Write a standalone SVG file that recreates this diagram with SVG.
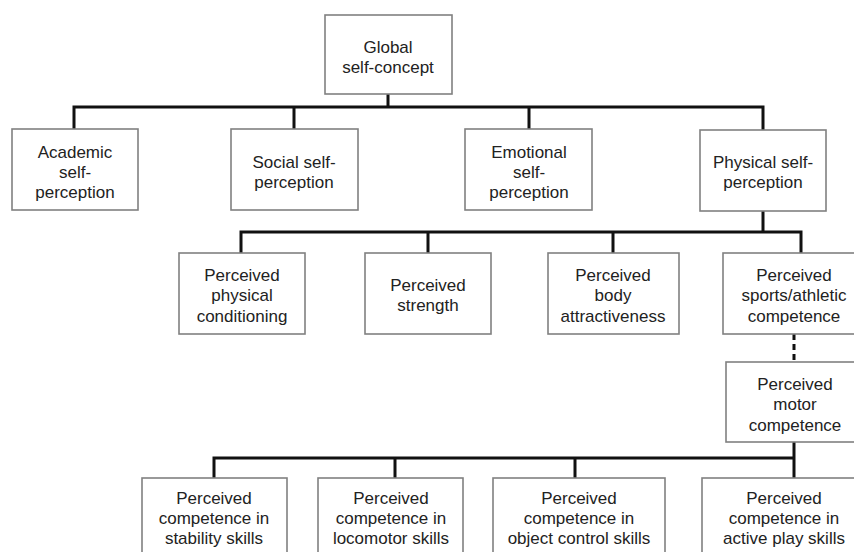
<svg xmlns="http://www.w3.org/2000/svg" width="854" height="552" viewBox="0 0 854 552">
<style>
.box{fill:#fff;stroke:#808080;stroke-width:1.6}
.t{font-family:"Liberation Sans",Arial,sans-serif;font-size:17px;fill:#222;text-anchor:middle}
.c{fill:none;stroke:#111;stroke-width:3}
.d{fill:none;stroke:#111;stroke-width:3;stroke-dasharray:6,4}
</style>
<rect width="854" height="552" fill="#fff"/>
<g id="connectors">
<path class="c" d="M388,94V107M74,129V107H763V130M294,107V129M529,107V129"/>
<path class="c" d="M763,211V232M241,253V232H801V253M428,232V253M613,232V253"/>
<path class="d" d="M794,334V362"/>
<path class="c" d="M794,442V478M214,478V458H794M395,458V478M575,458V478"/>
</g>
<g id="global"><rect class="box" x="325" y="15" width="127" height="79"/><text class="t" x="388" y="53">Global</text><text class="t" x="388" y="73">self-concept</text></g>
<g id="academic"><rect class="box" x="12" y="129" width="126" height="81"/><text class="t" x="75" y="158">Academic</text><text class="t" x="75" y="178">self-</text><text class="t" x="75" y="198">perception</text></g>
<g id="social"><rect class="box" x="231" y="129" width="127" height="81"/><text class="t" x="294" y="168">Social self-</text><text class="t" x="294" y="188">perception</text></g>
<g id="emotional"><rect class="box" x="465" y="129" width="127" height="81"/><text class="t" x="529" y="158">Emotional</text><text class="t" x="529" y="178">self-</text><text class="t" x="529" y="198">perception</text></g>
<g id="physical"><rect class="box" x="700" y="130" width="126" height="81"/><text class="t" x="763" y="168">Physical self-</text><text class="t" x="763" y="188">perception</text></g>
<g id="conditioning"><rect class="box" x="179" y="253" width="126" height="81"/><text class="t" x="242" y="281">Perceived</text><text class="t" x="242" y="301">physical</text><text class="t" x="242" y="322">conditioning</text></g>
<g id="strength"><rect class="box" x="365" y="253" width="126" height="81"/><text class="t" x="428" y="291">Perceived</text><text class="t" x="428" y="311">strength</text></g>
<g id="body"><rect class="box" x="548" y="253" width="131" height="81"/><text class="t" x="613" y="281">Perceived</text><text class="t" x="613" y="301">body</text><text class="t" x="613" y="322">attractiveness</text></g>
<g id="sports"><rect class="box" x="723" y="253" width="142" height="81"/><text class="t" x="794" y="281">Perceived</text><text class="t" x="794" y="301">sports/athletic</text><text class="t" x="794" y="322">competence</text></g>
<g id="motor"><rect class="box" x="726" y="362" width="138" height="80"/><text class="t" x="795" y="390">Perceived</text><text class="t" x="795" y="410">motor</text><text class="t" x="795" y="431">competence</text></g>
<g id="stability"><rect class="box" x="142" y="478" width="145" height="90"/><text class="t" x="214" y="504">Perceived</text><text class="t" x="214" y="524">competence in</text><text class="t" x="214" y="544">stability skills</text></g>
<g id="locomotor"><rect class="box" x="318" y="478" width="145" height="90"/><text class="t" x="391" y="504">Perceived</text><text class="t" x="391" y="524">competence in</text><text class="t" x="391" y="544">locomotor skills</text></g>
<g id="object"><rect class="box" x="493" y="478" width="172" height="90"/><text class="t" x="579" y="504">Perceived</text><text class="t" x="579" y="524">competence in</text><text class="t" x="579" y="544">object control skills</text></g>
<g id="activeplay"><rect class="box" x="702" y="478" width="164" height="90"/><text class="t" x="784" y="504">Perceived</text><text class="t" x="784" y="524">competence in</text><text class="t" x="784" y="544">active play skills</text></g>
</svg>
